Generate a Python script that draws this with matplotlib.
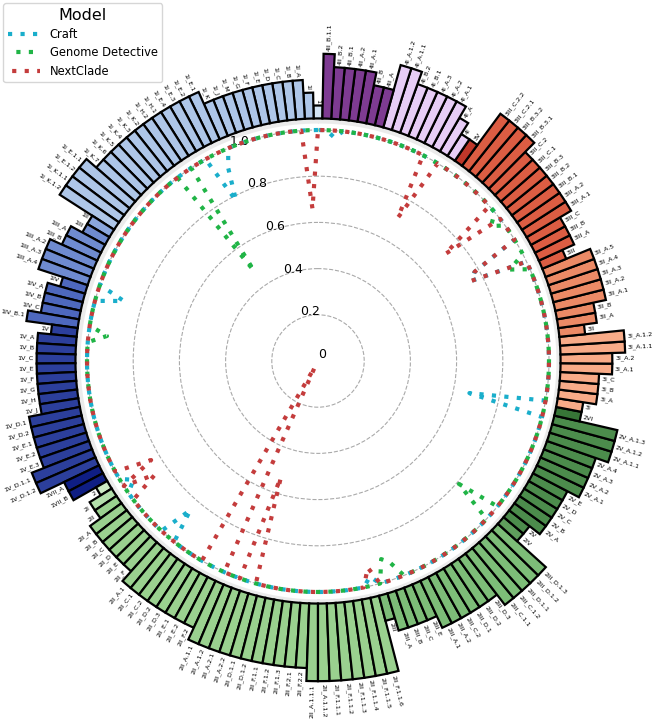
import matplotlib.pyplot as plt
import numpy as np

# lineages in drawing order (counter-clockwise from the top)
lineages = [
    '1', '1I', '1I_A', '1I_B', '1I_C', '1I_D', '1I_E', '1I_F', '1I_G', '1I_M', '1I_J', '1I_K',
    '1I_E.1', '1I_E.2', '1I_E.3', '1I_E.4', '1I_H.1', '1I_H.2', '1I_K.2', '1I_K.3', '1I_K.4',
    '1I_K.5', '1I_K.6', '1I_K.7', '1I_E.1.1', '1I_E.1.2', '1I_K.1.1', '1I_K.1.2',
    '1II', '1III', '1III_A', '1III_B', '1III_A.2', '1III_A.3', '1III_A.4',
    '1IV', '1IV_A', '1IV_B', '1IV_C', '1IV_B.1',
    '1V', '1V_A', '1V_B', '1V_C', '1V_E', '1V_F', '1V_G', '1V_H', '1V_J', '1V_D.1', '1V_D.2',
    '1V_E.1', '1V_E.2', '1V_E.3', '1V_D.1.1', '1V_D.1.2', '1VII_A', '1VII_B',
    '2', '2I', '2II', '2II_A', '2II_B', '2II_C', '2II_D', '2II_E', '2II_F',
    '2II_A.1', '2II_C.1', '2II_C.2', '2II_D.2', '2II_D.3', '2II_E.1', '2II_E.2', '2II_F.2',
    '2II_A.1.1', '2II_A.1.2', '2II_A.2.1', '2II_A.2.2', '2II_D.1.1', '2II_D.1.2',
    '2II_F.1.1', '2II_F.1.2', '2II_F.1.3', '2II_F.2.1', '2II_F.2.2',
    '2II_A.1.1.1', '2II_A.1.1.2', '2II_F.1.1.1', '2II_F.1.1.2', '2II_F.1.1.3',
    '2II_F.1.1.4', '2II_F.1.1.5', '2II_F.1.1.6',
    '2III', '2III_A', '2III_B', '2III_C', '2III_E', '2III_A.1', '2III_A.2', '2III_C.2',
    '2III_D.1', '2III_D.2', '2III_D.3', '2III_C.1.1', '2III_C.1.2', '2III_D.1.1',
    '2III_D.1.2', '2III_D.1.3',
    '2IV', '2V', '2V_A', '2V_B', '2V_C', '2V_D', '2V_E', '2V_A.1', '2V_A.2', '2V_A.3', '2V_A.4',
    '2V_A.1.1', '2V_A.1.2', '2V_A.1.3', '2VI',
    '3I', '3I_A', '3I_B', '3I_C', '3I_A.1', '3I_A.2', '3I_A.1.1', '3I_A.1.2',
    '3II', '3II_A', '3II_B', '3II_A.1', '3II_A.2', '3II_A.3', '3II_A.4', '3II_A.5',
    '3III', '3III_A', '3III_B', '3III_C', '3III_A.1', '3III_A.2', '3III_B.1', '3III_B.2',
    '3III_B.3', '3III_C.1', '3III_C.2', '3III_B.3.1', '3III_B.3.2', '3III_C.2.1', '3III_C.2.2',
    '3V',
    '4I', '4I_A', '4I_A.1', '4I_A.2', '4I_A.3', '4I_B.1', '4I_B.2', '4I_A.1.1', '4I_A.1.2',
    '4II_A', '4II_B', '4II_A.1', '4II_A.2', '4II_B.1', '4II_B.2', '4II_B.1.1',
]

# accuracy per model, 1.0 everywhere except these lineages
craft_dips = {'1I_E.1': 0.92, '1I_E.2': 0.78, '1IV': 0.88, '2I': 0.95, '2II_A.1': 0.85,
              '2II_F.1.1.6': 0.96, '2VI': 0.67, '3III_B': 0.75, '3III_C': 0.78,
              '4II_B.2': 0.97}
gd_dips = {'1I_H.2': 0.48, '1V': 0.92, '2III_A': 0.9, '2III_B': 0.93, '2IV': 0.81,
           '3III_A': 0.92, '3III_B.2': 0.95}
nextclade_dips = {'1I': 0.66, '2': 0.84, '2II': 0.86, '2II_E.2': 0.03, '2II_F.2': 0.05,
                  '2II_A.2.2': 0.53, '2II_F.1.1.6': 0.92, '3III_B': 0.75, '3III_C': 0.78,
                  '3III_B.3': 0.72, '4I_A.1': 0.71}

clade_colors = {
    '1': '#d4e4f4', '1I': '#aec6e8', '1II': '#8aa6dc', '1III': '#6f8bd0', '1IV': '#4e68be',
    '1V': '#2c3f9c', '1VII': '#0f1e84',
    '2': '#cdebc5', '2I': '#b3dfab', '2II': '#9ad18f', '2III': '#7dbd78', '2IV': '#5f9f5c',
    '2V': '#4c8c4c', '2VI': '#377537',
    '3I': '#f8ab88', '3II': '#ec8a66', '3III': '#dc5d43', '3V': '#c0372a',
    '4I': '#e7cdf6', '4II': '#7e3b92',
}

models = ['Craft', 'Genome Detective', 'NextClade']
model_colors = ['#1aaecb', '#20b446', '#c43c3c']

N = len(lineages)
theta = np.arange(N) * 2 * np.pi / N


def depth(name):
    if '_' in name:
        return 3 + name.count('.')
    return 2 if len(name) > 1 else 1


fig = plt.figure(figsize=(6.55, 7.19), dpi=100)
ax = fig.add_axes([-28.5 / 655, 11.5 / 719, 693 / 655, 693 / 719], projection='polar')
ax.set_theta_zero_location('N')
ax.set_ylim(0, 1.5)

base = 1.05
step = 0.056
heights = [step * depth(n) for n in lineages]
colors = [clade_colors[n.split('_')[0]] for n in lineages]
ax.bar(theta, heights, width=2 * np.pi / N, bottom=base, color=colors,
       edgecolor='black', linewidth=1.6, zorder=3)

# faint shadow just inside the bar ring
ring = np.linspace(0, 2 * np.pi, 400)
ax.fill_between(ring, 1.03, base, color='#d9d9d9', alpha=0.5, lw=0, zorder=1)

for i, name in enumerate(lineages):
    ang = np.degrees(theta[i])
    r = base + heights[i] + 0.012
    if ang <= 180:
        rot, ha = ang - 90, 'right'
    else:
        rot, ha = ang - 270, 'left'
    ax.text(theta[i], r, name, rotation=rot, rotation_mode='anchor', ha=ha,
            va='center', fontsize=4.6)

series = [craft_dips, gd_dips, nextclade_dips]
tt = np.append(theta, theta[0])
for k, (m, dips) in enumerate(zip(models, series)):
    vals = [dips.get(n, 1.0) for n in lineages]
    vals.append(vals[0])
    ax.plot(tt, vals, color=model_colors[k], lw=3, linestyle=(k * 1.0, (1, 2)),
            label=m, zorder=4)

ax.set_xticks([])
ax.set_rticks([0, 0.2, 0.4, 0.6, 0.8, 1.0])
ax.set_yticklabels(['0', '0.2', '0.4', '0.6', '0.8', '1.0'], fontsize=9)
ax.yaxis.grid(True, linestyle='--', color='#aaaaaa', lw=0.8)
ax.xaxis.grid(False)
ax.spines['polar'].set_visible(False)

fig.legend(loc='upper left', bbox_to_anchor=(0.0, 1.0), borderaxespad=0.3,
           title='Model', fontsize=8.3, title_fontsize=11.5, handlelength=2.8,
           labelspacing=0.45)

plt.savefig('out.png', dpi=100)
